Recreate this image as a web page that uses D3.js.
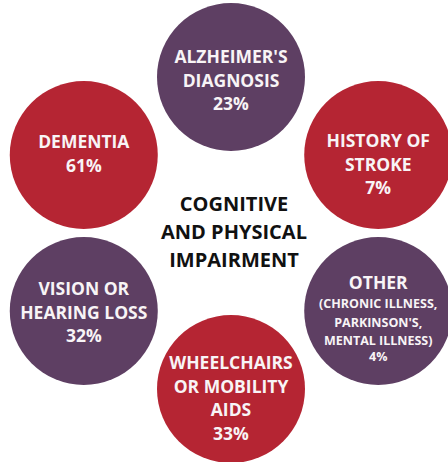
<!DOCTYPE html>
<html>
<head>
<meta charset="utf-8">
<script src="https://cdn.jsdelivr.net/npm/d3@7"></script>
<style>
html,body{margin:0;padding:0;background:#fff;}
svg{display:block;}
</style>
</head>
<body>
<svg id="chart" width="448" height="462"></svg>
<script>
// Data
const categories = ["ALZHEIMER'S DIAGNOSIS", "HISTORY OF STROKE", "OTHER", "WHEELCHAIRS OR MOBILITY AIDS", "VISION OR HEARING LOSS", "DEMENTIA"];
const values = [23, 7, 4, 33, 32, 61];
const labelLines = [
  ["ALZHEIMER'S", "DIAGNOSIS"],
  ["HISTORY OF", "STROKE"],
  ["OTHER"],
  ["WHEELCHAIRS", "OR MOBILITY", "AIDS"],
  ["VISION OR", "HEARING LOSS"],
  ["DEMENTIA"]
];
const subLines = [[], [], ["(CHRONIC ILLNESS,", "PARKINSON'S,", "MENTAL ILLNESS)"], [], [], []];
const groups = ["cognitive", "physical", "cognitive", "physical", "cognitive", "physical"];
const centerTitle = ["COGNITIVE", "AND PHYSICAL", "IMPAIRMENT"];

// Layout (not data)
const labelShift = [9.5, 15.5, 14, 15.25, 7.5, 4.75];

const svg = d3.select("#chart");
const cx = 231, cy = 233, rx = 170, ry = 156, R = 74;

const color = d3.scaleOrdinal().domain(["cognitive", "physical"]).range(["#5e3f63", "#b52533"]);
const angle = d3.scalePoint().domain(d3.range(categories.length)).range([-90, 210]);

const data = categories.map((c, i) => {
  const a = angle(i) * Math.PI / 180;
  return {
    i, name: c, value: values[i], lines: labelLines[i], sub: subLines[i], group: groups[i],
    x: cx + rx * Math.cos(a), y: cy + ry * Math.sin(a)
  };
});

const g = svg.selectAll("g.node").data(data).join("g").attr("class", "node")
  .attr("transform", d => `translate(${d.x},${d.y})`);

g.append("circle").attr("r", R).attr("fill", d => color(d.group));

const font = "'Open Sans', 'Noto Sans', sans-serif";

g.each(function(d) {
  const sel = d3.select(this);
  const items = [];
  d.lines.forEach(t => items.push({t, size: 17.5, h: 23.5}));
  const subH = [19, 18.5, 18.5];
  d.sub.forEach((t, k) => items.push({t, size: 12.5, h: subH[k]}));
  items.push({t: d.value + "%", size: d.sub.length ? 12.5 : 17.5, h: d.sub.length ? 16 : 23.5});
  let b = 0;
  const bs = items.map((it, k) => (k === 0 ? b : (b += it.h)));
  const off = -b / 2 + labelShift[d.i];
  items.forEach((it, k) => {
    sel.append("text")
      .attr("x", 0).attr("y", bs[k] + off)
      .attr("text-anchor", "middle")
      .attr("fill", "#f8f4f6")
      .attr("font-family", font)
      .attr("font-weight", 700)
      .attr("font-size", it.size)
      .text(it.t);
  });
});

svg.append("g").selectAll("text").data(centerTitle).join("text")
  .attr("x", 234)
  .attr("y", (d, i) => 211 + i * 28)
  .attr("text-anchor", "middle")
  .attr("fill", "#111")
  .attr("font-family", font)
  .attr("font-weight", 700)
  .attr("font-size", 20)
  .text(d => d);
</script>
</body>
</html>
